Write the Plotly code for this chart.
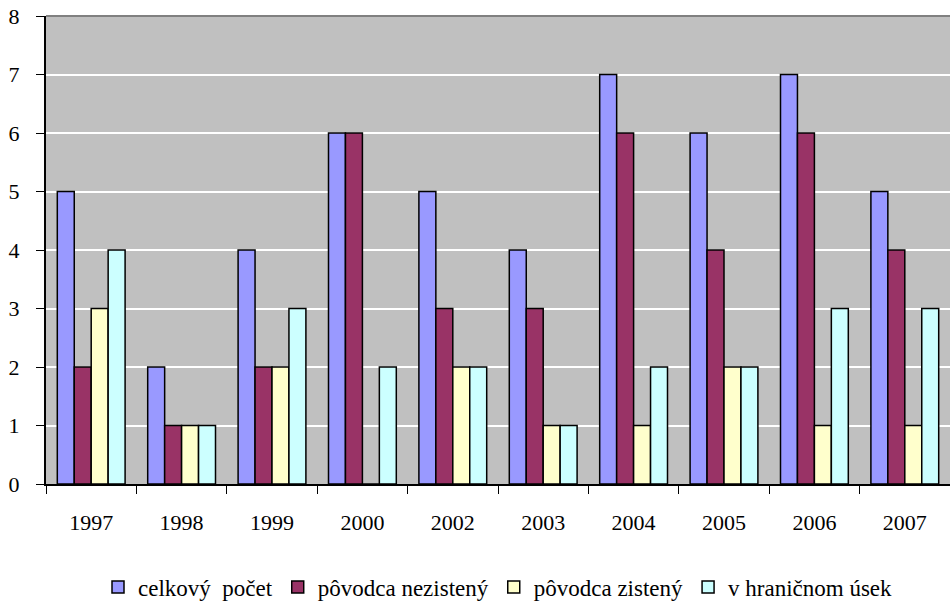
import plotly.graph_objects as go

years = ["1997", "1998", "1999", "2000", "2002", "2003", "2004", "2005", "2006", "2007"]
celkovy = [5, 2, 4, 6, 5, 4, 7, 6, 7, 5]
nezisteny = [2, 1, 2, 6, 3, 3, 6, 4, 6, 4]
zisteny = [3, 1, 2, 0, 2, 1, 1, 2, 1, 1]
hranicny = [4, 1, 3, 2, 2, 1, 2, 2, 3, 3]

series = [
    ("celkový  počet", celkovy, "#9999FF"),
    ("pôvodca nezistený", nezisteny, "#993366"),
    ("pôvodca zistený", zisteny, "#FFFFCC"),
    ("v hraničnom úsek", hranicny, "#CCFFFF"),
]

fig = go.Figure()
for name, vals, col in series:
    fig.add_trace(go.Bar(x=years, y=vals, name=name,
                         marker=dict(color=col, line=dict(color="black", width=1.5))))

font = "Liberation Serif"
fig.update_layout(
    template="none",
    width=950, height=603,
    margin=dict(l=46, r=0, t=16, b=119, autoexpand=False),
    paper_bgcolor="white", plot_bgcolor="#C0C0C0",
    barmode="group", bargap=0.25, bargroupgap=0,
    font=dict(family=font, size=22, color="black"),
    showlegend=True,
    legend=dict(orientation="h", x=0.5, xanchor="center", y=-0.22, yanchor="middle",
                font=dict(family=font, size=23), itemwidth=30, tracegroupgap=0),
    xaxis=dict(type="category", tickson="boundaries", ticks="outside", ticklen=8,
               tickcolor="black", showline=True, linecolor="black", linewidth=2,
               showgrid=False, tickfont=dict(family=font, size=22), ticklabelstandoff=18,
               automargin=False),
    yaxis=dict(range=[0, 8], dtick=1, ticks="outside", ticklen=8, tickcolor="black",
               showline=True, linecolor="black", linewidth=2, gridcolor="white",
               gridwidth=2, zeroline=False, tickfont=dict(family=font, size=22),
               ticklabelstandoff=12, automargin=False),
)
fig.add_shape(type="line", xref="paper", yref="paper", x0=0, x1=1, y0=1, y1=1,
              line=dict(color="#808080", width=2))
fig.write_html("out.html")
